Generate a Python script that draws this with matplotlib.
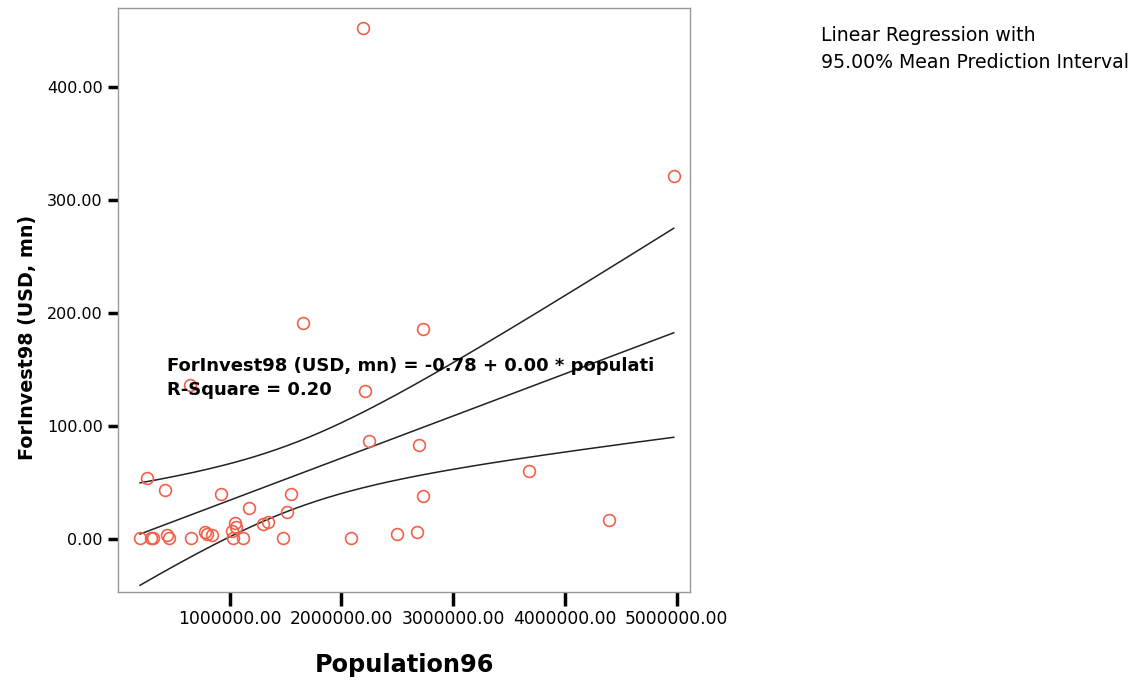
import numpy as np
import matplotlib
matplotlib.use("Agg")
import matplotlib.pyplot as plt

# population 1996 vs foreign investment 1998
population96 = [2193000, 4975000, 1656000, 2729000, 644000, 2210000, 2246000,
                2694000, 260000, 421000, 3678000, 922000, 1548000, 1172000,
                2729000, 1512000, 4394000, 1047000, 1056000, 1298000, 1342000,
                1020000, 779000, 796000, 841000, 2497000, 2676000, 197000,
                295000, 313000, 438000, 456000, 653000, 1029000, 1119000,
                1477000, 2085000]
forinvest98 = [452.0, 321.0, 191.0, 186.0, 136.0, 131.0, 87.0,
               83.0, 54.0, 43.4, 60.2, 39.8, 39.8, 27.4,
               38.1, 23.9, 16.8, 14.2, 10.6, 13.3, 15.0,
               7.1, 6.2, 4.4, 3.5, 4.4, 6.2, 0.9,
               0.9, 0.9, 3.5, 0.9, 0.9, 0.9, 0.9,
               0.9, 0.9]

y_ticks = [0, 100, 200, 300, 400]
x_ticks = [1000000, 2000000, 3000000, 4000000, 5000000]
T_975 = 2.03  # t quantile, n-2 = 35 df

x = np.array(population96, dtype=float)
y = np.array(forinvest98)
n = len(x)

# least squares fit and 95% interval for the mean
b, a = np.polyfit(x, y, 1)
resid = y - (a + b * x)
s = np.sqrt(np.sum(resid ** 2) / (n - 2))
sxx = np.sum((x - x.mean()) ** 2)
xs = np.linspace(x.min(), x.max(), 200)
fit = a + b * xs
half = T_975 * s * np.sqrt(1.0 / n + (xs - x.mean()) ** 2 / sxx)

fig = plt.figure(figsize=(11.38, 6.85), dpi=100)
ax = fig.add_axes([0.1037, 0.1358, 0.5026, 0.8525])

ax.plot(x, y, 'o', mfc='none', mec='#f0604a', mew=1.2, ms=8.5, zorder=3)
ax.plot(xs, fit, color='#222222', lw=1.1)
ax.plot(xs, fit + half, color='#222222', lw=1.1)
ax.plot(xs, fit - half, color='#222222', lw=1.1)

ax.set_xlim(0, 5120000)
ax.set_ylim(-47, 470)
ax.set_xticks(x_ticks)
ax.set_xticklabels(['%.2f' % v for v in x_ticks])
ax.set_yticks(y_ticks)
ax.set_yticklabels(['%.2f' % v for v in y_ticks])

for sp in ax.spines.values():
    sp.set_color('#999999')
    sp.set_linewidth(1.0)
ax.tick_params(axis='x', length=10, width=2.5, color='black', pad=3,
               labelsize=12.3, labelfontfamily='DejaVu Sans')
ax.tick_params(axis='y', length=7, width=2.5, color='black', pad=4,
               labelsize=11.5, labelfontfamily='DejaVu Sans')

ax.set_xlabel('Population96', fontsize=17.3, fontweight='bold', family='DejaVu Sans')
ax.xaxis.label.set_va('baseline')
ax.xaxis.set_label_coords(0.5, -0.137)
ax.set_ylabel('ForInvest98 (USD, mn)', fontsize=13.8, fontweight='bold', family='DejaVu Sans')
ax.yaxis.label.set_va('center')
ax.yaxis.set_label_coords(-0.159, 0.4366)

eq_lines = ['ForInvest98 (USD, mn) = -0.78 + 0.00 * populati', 'R-Square = 0.20']
for txt, yy in zip(eq_lines, [0.3784, 0.3373]):
    ax.text(0.0857, yy, txt, transform=ax.transAxes, fontsize=13,
            fontweight='bold', family='DejaVu Sans', va='baseline', ha='left')

for txt, yy in zip(['Linear Regression with', '95.00% Mean Prediction Interval'],
                   [0.940, 0.9007]):
    fig.text(0.7214, yy, txt, fontsize=13.6, family='DejaVu Sans',
             va='baseline', ha='left')

fig.savefig('out.png', dpi=100)
